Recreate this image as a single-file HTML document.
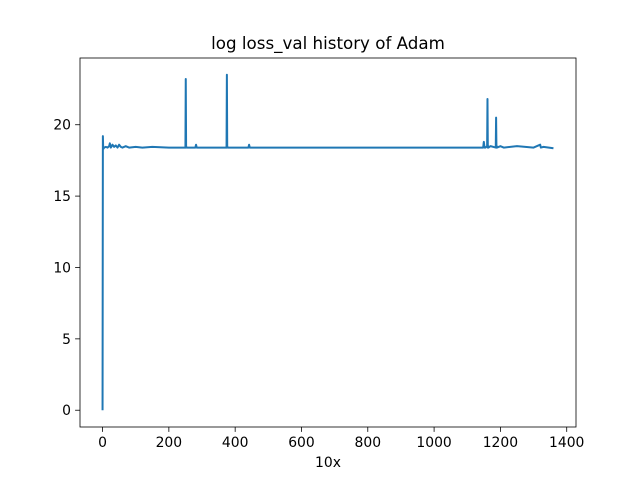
<!DOCTYPE html>
<html><head><meta charset="utf-8"><style>
body{margin:0;background:#fff;font-family:"Liberation Sans","DejaVu Sans",sans-serif}
svg text{font-family:"DejaVu Sans","Liberation Sans",sans-serif;font-size:13.9px;fill:#000}
</style></head><body>
<svg id="chart" width="640" height="480">
<rect width="640" height="480" fill="#fff"/>
<text x="328" y="49" text-anchor="middle" style="font-size:16.7px">log loss_val history of Adam</text>
<text x="328" y="467" text-anchor="middle">10x</text>
<g id="ticks"></g>
<path id="line" fill="none" stroke="#1f77b4" stroke-width="2" stroke-linejoin="round"/>
<rect x="80" y="58" width="496" height="369" fill="none" stroke="#000" stroke-width="0.8"/>
</svg>
<script>
const xs=[0,1,2,5,10,15,20,22,25,30,35,40,45,50,55,60,70,80,100,120,150,200,250,251,252,253,254,260,280,282,284,300,350,374,375,376,377,378,400,440,442,444,500,600,700,800,900,1000,1100,1148,1150,1152,1155,1160,1161,1162,1163,1164,1170,1186,1187,1188,1189,1190,1200,1210,1250,1300,1320,1322,1330,1360];
const ys=[0,19.2,18.3,18.4,18.45,18.4,18.5,18.7,18.4,18.6,18.45,18.55,18.4,18.6,18.45,18.4,18.5,18.4,18.45,18.4,18.45,18.4,18.4,23.2,18.4,18.45,18.4,18.4,18.4,18.6,18.4,18.4,18.4,18.4,23.5,18.4,18.45,18.4,18.4,18.4,18.6,18.4,18.4,18.4,18.4,18.4,18.4,18.4,18.4,18.4,18.8,18.4,18.4,18.5,21.8,18.4,18.5,18.4,18.5,18.4,20.5,18.4,18.5,18.4,18.5,18.4,18.5,18.4,18.6,18.4,18.45,18.35];
const xTicks=[0,200,400,600,800,1000,1200,1400];
const yTicks=[0,5,10,15,20];
const X0=80,W=496,Y0=58,H=369,xmin=-68,xmax=1428,ymin=-1.175,ymax=24.675;
const sx=v=>X0+(v-xmin)/(xmax-xmin)*W;
const sy=v=>Y0+H-(v-ymin)/(ymax-ymin)*H;
document.getElementById('line').setAttribute('d',xs.map((x,i)=>(i?'L':'M')+sx(x).toFixed(2)+' '+sy(ys[i]).toFixed(2)).join(''));
const g=document.getElementById('ticks'),ns='http://www.w3.org/2000/svg';
xTicks.forEach(t=>{const l=document.createElementNS(ns,'line');


l.setAttribute('x1',sx(t));l.setAttribute('x2',sx(t));l.setAttribute('y1',427);l.setAttribute('y2',431.9);l.setAttribute('stroke','#000');l.setAttribute('stroke-width','0.8');g.appendChild(l);
const s=document.createElementNS(ns,'text');


s.setAttribute('x',sx(t));s.setAttribute('y',447);s.setAttribute('text-anchor','middle');s.textContent=t;g.appendChild(s);});
yTicks.forEach(t=>{const l=document.createElementNS(ns,'line');


l.setAttribute('x1',75.1);l.setAttribute('x2',80);l.setAttribute('y1',sy(t));l.setAttribute('y2',sy(t));l.setAttribute('stroke','#000');l.setAttribute('stroke-width','0.8');g.appendChild(l);
const s=document.createElementNS(ns,'text');


s.setAttribute('x',71);s.setAttribute('y',sy(t)+5);s.setAttribute('text-anchor','end');s.textContent=t;g.appendChild(s);});
</script>
</body></html>
